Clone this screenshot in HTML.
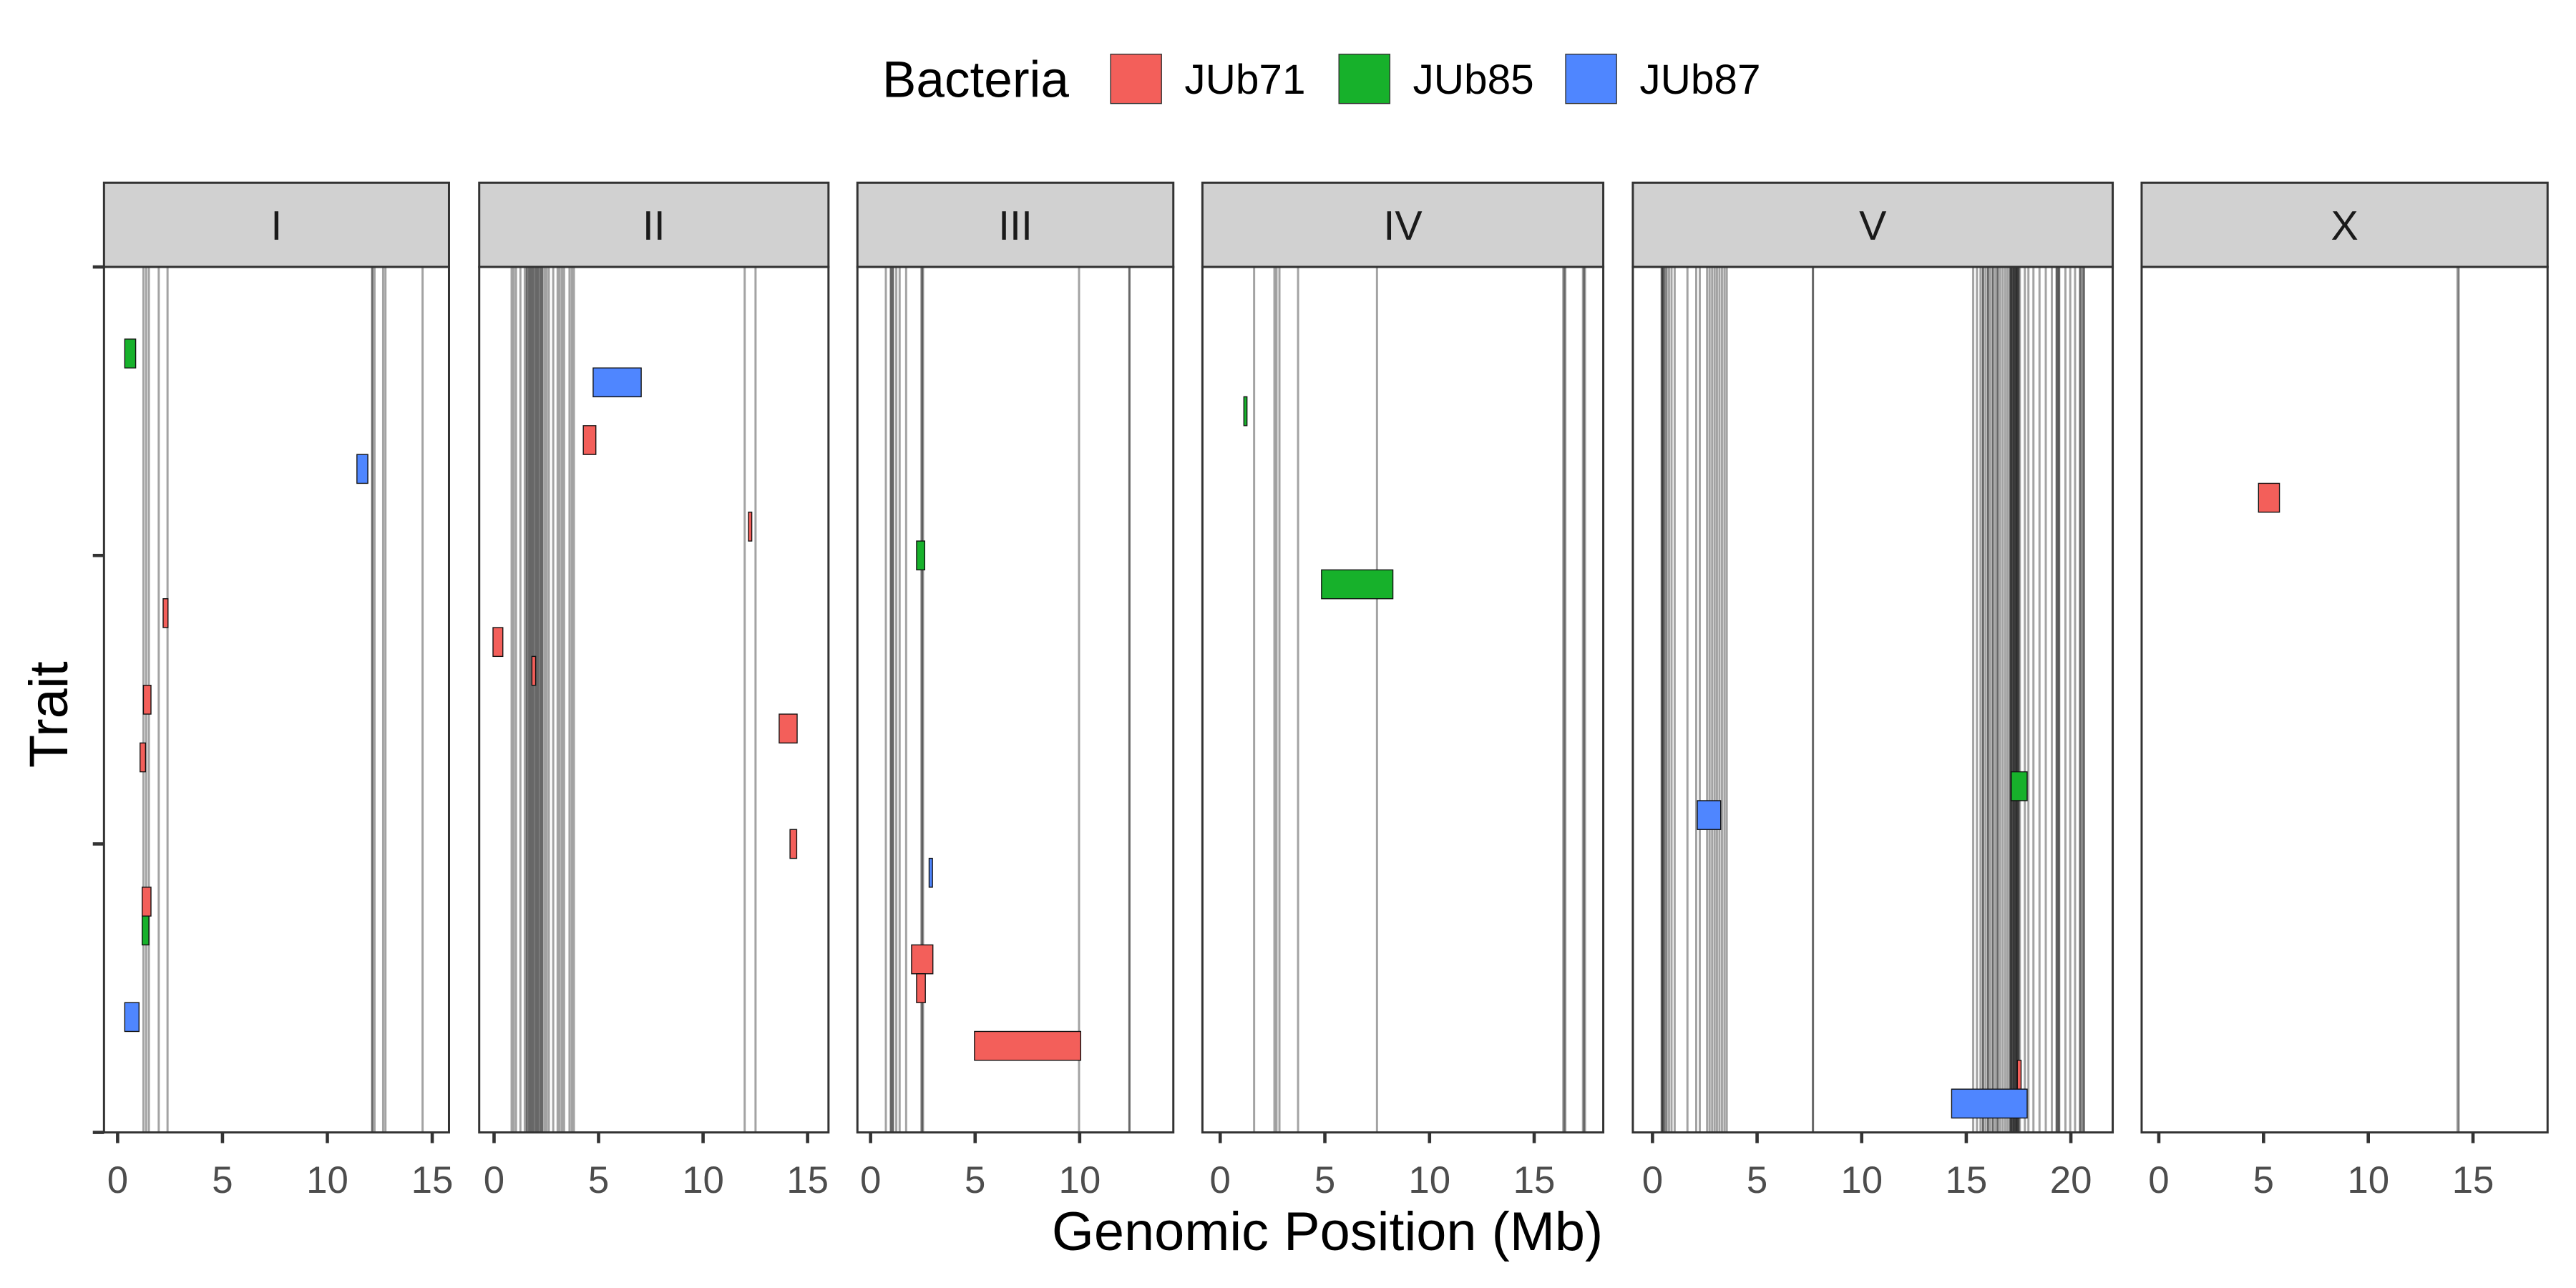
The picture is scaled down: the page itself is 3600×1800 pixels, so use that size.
<!DOCTYPE html>
<html><head><meta charset="utf-8"><style>html,body{margin:0;padding:0;background:#fff}svg{display:block}</style></head>
<body>
<svg id="chart" xmlns="http://www.w3.org/2000/svg" width="3600" height="1800" viewBox="0 0 1568 784" font-family="Liberation Sans, sans-serif">
<rect x="0" y="0" width="1568" height="784" fill="#fff"/>
<g>
  <text x="537" y="59" font-size="31" fill="#000">Bacteria</text>
  <rect x="676" y="33" width="31" height="30" fill="#F35F5A" stroke="#333" stroke-width="0.6"/>
  <text x="721" y="57" font-size="25.5" fill="#000">JUb71</text>
  <rect x="815" y="33" width="31" height="30" fill="#17B12B" stroke="#333" stroke-width="0.6"/>
  <text x="860" y="57" font-size="25.5" fill="#000">JUb85</text>
  <rect x="953" y="33" width="31" height="30" fill="#4F86FF" stroke="#333" stroke-width="0.6"/>
  <text x="998" y="57" font-size="25.5" fill="#000">JUb87</text>
</g>
<text x="808" y="761" font-size="33" text-anchor="middle" fill="#000">Genomic Position (Mb)</text>
<text transform="translate(41,435) rotate(-90)" font-size="33" text-anchor="middle" fill="#000">Trait</text>
<g id="panels"></g>
</svg>
<script>
const chroms = ["I","II","III","IV","V","X"];
const panelLeft = [63.3, 291.7, 521.9, 731.9, 993.9, 1303.6];
const panelRight = [273.3, 504.3, 714.2, 975.9, 1286, 1550.7];
const xMin = [-0.65, -0.71, -0.63, -0.85, -0.94, -0.82];
const xMax = [15.8, 16.0, 14.48, 18.3, 22.0, 18.56];
const xTicks = [[0,5,10,15],[0,5,10,15],[0,5,10],[0,5,10,15],[0,5,10,15,20],[0,5,10,15]];
const yTicks = [0, 10, 20, 30];
// QTL intervals: chromosome, trait index, start Mb, end Mb, bacteria
const qtlChrom = ["I","I","I","I","I","I","I","I","II","II","II","II","II","II","II","III","III","III","III","III","IV","IV","V","V","V","V","X"];
const qtlTrait = [3,7,12,15,17,22,23,26,4,6,9,13,14,16,20,10,21,24,25,27,5,11,19,18,28,29,8];
const qtlStart = [0.34,11.41,2.17,1.23,1.07,1.17,1.17,0.34,4.74,4.27,12.17,-0.05,1.81,13.64,14.16,2.2,2.8,1.96,2.2,4.97,1.13,4.84,2.14,17.15,17.44,14.3,4.76];
const qtlEnd = [0.86,11.93,2.40,1.59,1.33,1.59,1.49,1.02,7.04,4.87,12.33,0.42,1.99,14.5,14.48,2.59,2.96,2.98,2.62,10.05,1.28,8.25,3.26,17.91,17.62,17.91,5.76];
const qtlBacteria = ["JUb85","JUb87","JUb71","JUb71","JUb71","JUb71","JUb85","JUb87","JUb87","JUb71","JUb71","JUb71","JUb71","JUb71","JUb71","JUb85","JUb87","JUb71","JUb71","JUb71","JUb85","JUb85","JUb87","JUb85","JUb71","JUb87","JUb71"];
// marker/peak positions per chromosome (Mb)
const markersI = [1.23,1.36,1.49,1.96,2.38,12.14,12.14,12.25,12.66,12.77,14.54];
const markersII = [0.84,0.94,1.05,1.26,1.47,1.57,1.57,1.68,1.68,1.78,1.78,1.88,1.88,1.99,1.99,2.09,2.09,2.20,2.20,2.30,2.30,2.41,2.51,2.62,2.83,3.04,3.14,3.25,3.35,3.61,3.72,3.82,11.99,12.51];
const markersIII = [0.73,0.97,0.97,1.07,1.07,1.23,1.39,1.70,2.43,2.51,2.47,9.97,12.38,12.38];
const markersIV = [1.62,2.59,2.69,2.83,3.72,7.49,16.39,16.49,16.44,17.33,17.43,17.38];
const markersV = [0.44,0.44,0.5,0.5,0.56,0.62,0.68,0.79,0.91,1.06,1.67,2.09,2.26,2.61,2.73,2.85,2.97,3.08,3.2,3.32,3.44,3.55,7.67,7.67,15.33,15.51,15.68,15.8,15.8,15.92,16.04,16.04,16.15,16.27,16.27,16.39,16.5,16.5,16.62,16.74,16.86,16.97,17.09,17.09,17.15,17.15,17.21,17.21,17.27,17.27,17.33,17.33,17.39,17.39,17.44,17.44,17.5,17.5,17.56,17.8,17.97,18.21,18.5,18.8,19.09,19.32,19.32,19.38,19.44,19.44,19.74,19.97,20.2,20.44,20.44,20.53,20.62,20.62];
const markersX = [14.26,14.32];
const markers = [markersI, markersII, markersIII, markersIV, markersV, markersX];
const colors = {JUb71:"#F35F5A", JUb85:"#17B12B", JUb87:"#4F86FF"};

const NS = "http://www.w3.org/2000/svg";
const plotTop = 162.5, plotBottom = 689.3, stripTop = 111.2;
const yMin = 0, yMax = 30;
function yScale(v){ return plotTop + (v - yMin) / (yMax - yMin) * (plotBottom - plotTop); }
function xScale(p, v){ return panelLeft[p] + (v - xMin[p]) / (xMax[p] - xMin[p]) * (panelRight[p] - panelLeft[p]); }
function mk(tag, attrs, parent){ const e = document.createElementNS(NS, tag); for (const k in attrs) e.setAttribute(k, attrs[k]); parent.appendChild(e); return e; }

const root = document.getElementById('panels');
yTicks.forEach(t => {
  const l = mk('line', {x1:56.5, x2:63.3, y1:yScale(t), y2:yScale(t), stroke:'#333', 'stroke-width':2}, root);
  
  
});
chroms.forEach((c, p) => {
  const g = mk('g', {}, root);
  
  
  const L = panelLeft[p], R = panelRight[p];
  const strip = mk('rect', {x:L, y:stripTop, width:R-L, height:plotTop-stripTop, fill:'#d1d1d1', stroke:'#333', 'stroke-width':1.3}, g);
  
  
  const st = mk('text', {x:(L+R)/2, y:146, 'font-size':25, 'text-anchor':'middle', fill:'#1a1a1a'}, g);
  st.textContent = c;
  
  
  const bg = mk('rect', {x:L, y:plotTop, width:R-L, height:plotBottom-plotTop, fill:'#fff'}, g);
  
  
  markers[p].forEach(m => {
    const x = xScale(p, m);
    const ln = mk('line', {x1:x, x2:x, y1:plotTop, y2:plotBottom, stroke:'#000', 'stroke-opacity':0.36, 'stroke-width':1.3}, g);
    
    
  });
  qtlChrom.forEach((qc, i) => {
    if (qc !== c) return;
    const x1 = xScale(p, qtlStart[i]), x2 = xScale(p, qtlEnd[i]);
    const y1 = yScale(qtlTrait[i] - 0.5), y2 = yScale(qtlTrait[i] + 0.5);
    const r = mk('rect', {x:x1, y:y1, width:Math.max(x2-x1, 1.5), height:y2-y1, fill:colors[qtlBacteria[i]], stroke:'#111', 'stroke-width':0.6}, g);
    
    
  });
  const border = mk('rect', {x:L, y:plotTop, width:R-L, height:plotBottom-plotTop, fill:'none', stroke:'#333', 'stroke-width':1.3}, g);
  
  
  xTicks[p].forEach(t => {
    const x = xScale(p, t);
    const tk = mk('line', {x1:x, x2:x, y1:plotBottom, y2:plotBottom+6.5, stroke:'#333', 'stroke-width':2}, g);
    
    
    const tl = mk('text', {x:x, y:726, 'font-size':23, 'text-anchor':'middle', fill:'#4d4d4d'}, g);
    tl.textContent = t;
    
    
  });
});
</script>
</body></html>
